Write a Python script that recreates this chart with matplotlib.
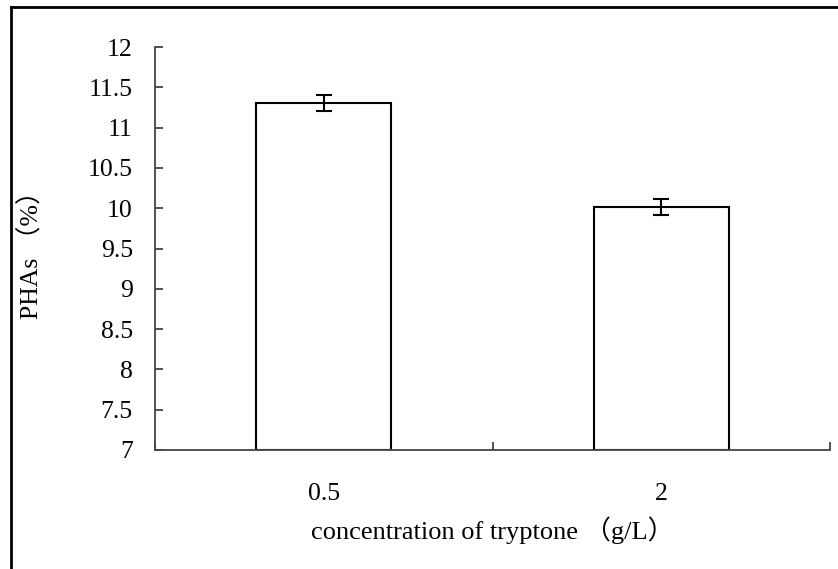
import matplotlib
matplotlib.use('Agg')
import matplotlib.pyplot as plt
from matplotlib.lines import Line2D

categories = ['0.5', '2']
values = [11.30, 10.02]
errors = [0.10, 0.10]
yticks = [7, 7.5, 8, 8.5, 9, 9.5, 10, 10.5, 11, 11.5, 12]

plt.rcParams['font.family'] = ['Liberation Serif', 'Noto Sans CJK SC']

fig = plt.figure(figsize=(8.38, 5.69), dpi=100)
ax = fig.add_axes([155/838, 1 - 450/569, 675/838, 403/569])

x = range(len(categories))
ax.bar(x, [v - 7 for v in values], bottom=7, width=0.4,
	color='white', edgecolor='black', linewidth=1.5, zorder=2)
ax.errorbar(x, values, yerr=errors, fmt='none', ecolor='black',
	elinewidth=1.5, capsize=5.5, capthick=1.5, zorder=3)

ax.set_xlim(-0.5, len(categories) - 0.5)
ax.set_ylim(7, 12)
ax.set_yticks(yticks)
ax.set_yticklabels([f'{t:g}' for t in yticks])
ax.set_xticks(list(x))
ax.set_xticklabels(categories)
ax.set_xticks([-0.5, 0.5, 1.5], minor=True)

ax.tick_params(axis='y', direction='in', length=6, width=1.2, colors='#333333',
	labelcolor='black', labelsize=18.5, pad=16)
ax.tick_params(axis='x', which='major', length=0, labelsize=18.5, pad=24)
ax.tick_params(axis='x', which='minor', direction='in', length=6, width=1.2, colors='#333333')

for s in ['top', 'right']:
	ax.spines[s].set_visible(False)
for s in ['left', 'bottom']:
	ax.spines[s].set_color('#444444')
	ax.spines[s].set_linewidth(1.3)

ax.set_ylabel('PHAs （%）', fontsize=18.5, labelpad=32)
ax.set_xlabel('concentration of tryptone （g/L）', fontsize=19, labelpad=8)

# outer frame (top and left only)
fig.add_artist(Line2D([11/838, 1], [1 - 7/569, 1 - 7/569], color='black', lw=2))
fig.add_artist(Line2D([11/838, 11/838], [0, 1 - 7/569], color='black', lw=2))

fig.savefig('out.png', dpi=100)
